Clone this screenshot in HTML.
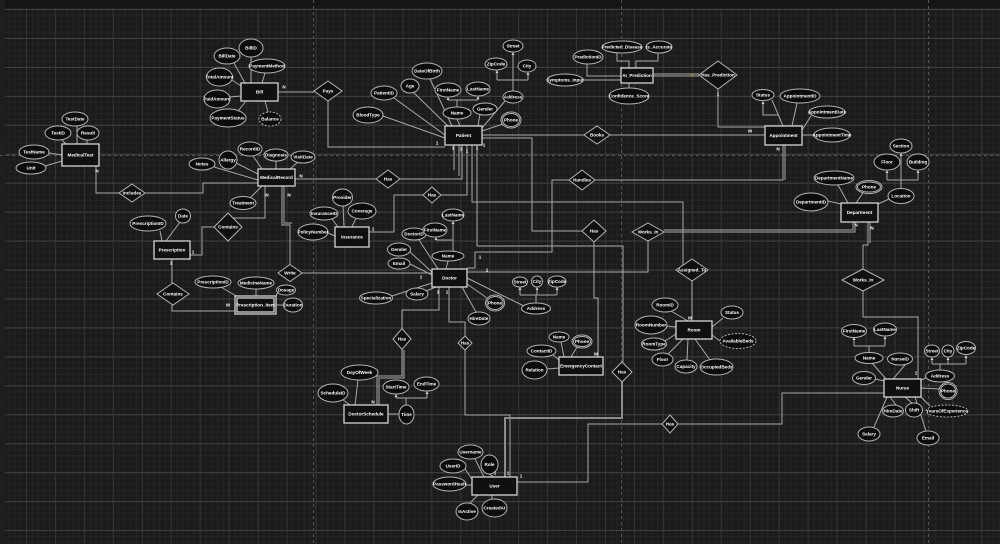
<!DOCTYPE html>
<html><head><meta charset="utf-8">
<style>
html,body{margin:0;padding:0;background:#1b1b1b;}
svg{display:block;}
.e{fill:#0c0c0c;stroke:#b4b4b4;stroke-width:1}
.ed{fill:#0c0c0c;stroke:#b4b4b4;stroke-width:1;stroke-dasharray:2 1.5}
.en{fill:#101010;stroke:#d4d4d4;stroke-width:1.3}
.d{fill:#101010;stroke:#b4b4b4;stroke-width:1}
.l{fill:none;stroke:#a8a8a8;stroke-width:1}
.lt{fill:none;stroke:#8c8c8c;stroke-width:2}
.ar{fill:#d0d0d0}
text{fill:#fff;font-family:"Liberation Sans",sans-serif;font-weight:bold;font-size:4.6px;text-anchor:middle;dominant-baseline:central}
.c{font-size:4.8px}
</style></head>
<body>
<svg width="1000" height="544" viewBox="0 0 1000 544" xmlns="http://www.w3.org/2000/svg">
<defs>
<pattern id="gm" x="26" y="9" width="5.79" height="5.79" patternUnits="userSpaceOnUse"><path d="M0 0.5H5.79M0.5 0V5.79" stroke="#232323" stroke-width="1"/></pattern>
<pattern id="gM" x="26" y="9" width="28.95" height="28.95" patternUnits="userSpaceOnUse"><path d="M0 0.5H28.95" stroke="#424242" stroke-width="1"/><path d="M0.5 0V28.95" stroke="#343434" stroke-width="1"/></pattern>
</defs>
<rect width="1000" height="544" fill="#1b1b1b"/>
<rect width="1000" height="544" fill="url(#gm)"/>
<rect width="1000" height="544" fill="url(#gM)"/>
<rect x="0" y="0" width="1000" height="8" fill="#151515"/>
<rect x="0" y="0" width="5" height="544" fill="#1e1e1e"/>
<!-- page break dashes -->
<g stroke="#555" stroke-width="1" stroke-dasharray="3 3" fill="none">
<path d="M0 155.5H1000"/>
<path d="M313.5 0V544M621.5 0V544M928.5 0V544"/>
</g>

<!-- attribute connectors -->
<path class="l" d="
M251 57V83 M234 63L245 83 M265 73L262 83 M232 80L241 86 M230 97L241 96 M238 111L246 101 M268 112L265 101
M77 126V144 M62 140L66 144 M87 140V144 M49 153L62 155 M45 166L62 161
M383 116L445 138 M394 98L445 135 M413 92L448 126 M430 79L452 126 M457 119L460 126 M480 114L478 126
M457 108V100 M448 100H478 M448 100V99 M478 100V98
M505 101L482 128 M503 124L482 131
M513 91V54 M497 80H528 M497 80V72 M528 80V74
M587 64V76H621 M617 53V61H629V68 M636 68V61H658V53 M583 80H621 M629 88V83
M772 100L783 126 M763 103V115H778 M797 103L792 126 M811 116L802 130 M814 135H802
M901 188V155 M887 180H918 M887 180V172 M918 180V172
M838 185L848 203 M863 193L856 203 M889 199L878 204 M828 201L841 204
M253 156L262 169 M276 161V169 M298 162L290 169 M236 163L258 174 M214 167L258 180 M250 198L262 186
M160 231L162 241 M180 222L166 241
M221 287L238 297 M256 289V297 M278 292L275 298 M284 305H275
M343 206L344 227 M356 218L352 227 M332 219L338 227 M328 233L335 236
M419 240L438 269 M448 261L446 269 M453 251V223 M436 240H453 M436 240V239
M410 252L432 272 M410 264L432 275 M392 296L432 283 M426 291L436 287 M476 312L462 287 M487 298L467 284 M524 306L467 278
M536 303V295 M520 295H557 M520 295V289 M537 295V289 M557 295V289
M671 311L688 321 M667 326L676 327 M665 341L676 334 M668 354L683 339 M687 360L688 339 M710 360L695 339 M723 318L712 327 M720 341L712 335
M561 342L564 357 M577 347L571 357 M553 355L559 360 M547 369L559 368
M872 363L886 379 M905 365L893 379 M875 379L884 381 M926 378L921 380 M939 389L921 388 M930 406L921 397 M896 405L890 397 M912 403L905 397 M926 431L915 397 M874 427L887 397
M869 352V346 M854 346H885 M854 346V339 M885 346V338
M940 370V364 M932 364H966 M932 364V359 M948 364V359 M966 364V357
M358 380L355 405 M343 400L350 405 M399 414H388
M406 405V398 M396 398H427 M396 398V396 M427 398V393
M475 459L484 477 M489 474L494 477 M465 469L472 479 M466 485H472 M470 503L478 495 M492 499V495
"/>

<!-- relationship connectors -->
<path class="l" d="
M278 92H314
M328 101V147H445
M96 166V193H119
M145 193H203V183H258
M295 179H376
M400 179H462V145
M369 232H394V195H423
M441 195H467V145
M265 186V218H233
M214 227H202V255H190
M172 259V283
M172 305V311H236
M282 186V225H290V265
M284 186V223H292
M302 273H432
M472 145V202H683V265
M692 281V321
M477 145V246H623V362
M482 138H532V231H582
M594 242V298H598V357
M482 135H584 M610 135H765
M653 74H699 M653 76H699
M718 89V127H765
M467 268H475V252H552V180H569
M595 180H783V145 M785 180V145
M467 272H648V241
M664 232H855V222 M664 230H853V222
M868 222V245H863V269 M870 222V243
M863 291V317H918V379
M884 393H782V424H678
M662 424H588V482H517
M439 287V310H402V328
M402 350V376H377V405 M404 350V378H379V405
M449 287V322H465V336
M465 350V415H510V477
M454 145V170 M459 145V176
"/>
<path class="lt" d="M622 382V418H505V477"/>

<!-- arrowheads -->
<g class="ar">
<polygon points="448,97 446.5,100 449.5,100"/>
<polygon points="478,96 476.5,99 479.5,99"/>
<polygon points="513,52 511.5,55 514.5,55"/>
<polygon points="497,70 495.5,73 498.5,73"/>
<polygon points="528,72 526.5,75 529.5,75"/>
<polygon points="763,101 761.5,104 764.5,104"/>
<polygon points="901,153 899.5,156 902.5,156"/>
<polygon points="887,170 885.5,173 888.5,173"/>
<polygon points="918,170 916.5,173 919.5,173"/>
<polygon points="453,221 451.5,224 454.5,224"/>
<polygon points="436,237 434.5,240 437.5,240"/>
<polygon points="520,287 518.5,290 521.5,290"/>
<polygon points="537,287 535.5,290 538.5,290"/>
<polygon points="557,287 555.5,290 558.5,290"/>
<polygon points="854,337 852.5,340 855.5,340"/>
<polygon points="885,336 883.5,339 886.5,339"/>
<polygon points="932,357 930.5,360 933.5,360"/>
<polygon points="948,357 946.5,360 949.5,360"/>
<polygon points="966,355 964.5,358 967.5,358"/>
<polygon points="396,394 394.5,397 397.5,397"/>
<polygon points="427,391 425.5,394 428.5,394"/>
</g>

<!-- entities -->
<rect class="en" x="241" y="83" width="37" height="18"/><text x="259.5" y="92">Bill</text>
<rect class="en" x="62" y="144" width="37" height="22"/><text x="80.5" y="155">MedicalTest</text>
<rect class="en" x="445" y="126" width="37" height="19"/><text x="463.5" y="135.5">Patient</text>
<rect class="en" x="621" y="68" width="32" height="15"/><text x="637" y="75.5">AI_Prediction</text>
<rect class="en" x="765" y="126" width="37" height="19"/><text x="783.5" y="135.5">Appointment</text>
<rect class="en" x="258" y="169" width="37" height="17"/><text x="276.5" y="177.5">MedicalRecord</text>
<rect class="en" x="841" y="203" width="37" height="19"/><text x="859.5" y="212.5">Department</text>
<rect class="en" x="154" y="241" width="36" height="18"/><text x="172" y="250">Prescription</text>
<rect class="en" x="335" y="227" width="34" height="20"/><text x="352" y="237">Insurance</text>
<rect class="en" x="432" y="269" width="35" height="18"/><text x="449.5" y="278">Doctor</text>
<rect class="en" x="235" y="296" width="41" height="18"/><rect class="en" x="237" y="298" width="37" height="14"/><text x="255.5" y="305">Prescription_Item</text>
<rect class="en" x="676" y="321" width="36" height="18"/><text x="694" y="330">Room</text>
<rect class="en" x="559" y="357" width="44" height="18"/><text x="581" y="366">EmergencyContact</text>
<rect class="en" x="884" y="379" width="37" height="18"/><text x="902.5" y="388">Nurse</text>
<rect class="en" x="344" y="405" width="44" height="18"/><text x="366" y="414">DoctorSchedule</text>
<rect class="en" x="472" y="477" width="45" height="18"/><text x="494.5" y="486">User</text>

<!-- relationships -->
<polygon class="d" points="328,81 342,91 328,101 314,91"/><text x="328" y="91">Pays</text>
<polygon class="d" points="132,184 145,193 132,202 119,193"/><text x="132" y="193">Includes</text>
<polygon class="d" points="388,170 400,179 388,188 376,179"/><text x="388" y="179">Has</text>
<polygon class="d" points="432,187 441,195 432,203 423,195"/><text x="432" y="195">Has</text>
<polygon class="d" points="228,213 242,227 228,241 214,227"/><text x="228" y="227">Contains</text>
<polygon class="d" points="173,283 189,294 173,305 157,294"/><text x="173" y="294">Contains</text>
<polygon class="d" points="290,264.5 302,273 290,281.5 278,273"/><text x="290" y="273">Write</text>
<polygon class="d" points="718,61 737,75 718,89 699,75"/><text x="718" y="75">Has_Prediction</text>
<polygon class="d" points="597,126 610,135 597,144 584,135"/><text x="597" y="135">Books</text>
<polygon class="d" points="582,170 595,180 582,190 569,180"/><text x="582" y="180">Handles</text>
<polygon class="d" points="594,220 606,231 594,242 582,231"/><text x="594" y="231">Has</text>
<polygon class="d" points="648,223 664,232 648,241 632,232"/><text x="648" y="232">Works_In</text>
<polygon class="d" points="692,259 708,270 692,281 676,270"/><text x="692" y="270">Assigned_To</text>
<polygon class="d" points="863,269 884,280 863,291 842,280"/><text x="863" y="280">Works_in</text>
<polygon class="d" points="402,328.5 411,339 402,349.5 393,339"/><text x="402" y="339">Has</text>
<polygon class="d" points="465,336 472,343 465,350 458,343"/><text x="465" y="343">Has</text>
<polygon class="d" points="622,362 632,372 622,382 612,372"/><text x="622" y="372">Has</text>
<polygon class="d" points="670,415 678,424 670,433 662,424"/><text x="670" y="424">Has</text>

<!-- attributes: Bill -->
<ellipse class="e" cx="251" cy="48" rx="12" ry="9"/><text x="251" y="48">BillID</text>
<ellipse class="e" cx="227" cy="56" rx="13" ry="8"/><text x="227" y="56">BillDate</text>
<ellipse class="e" cx="267" cy="66" rx="18" ry="7"/><text x="267" y="66">PaymentMethod</text>
<ellipse class="e" cx="219.5" cy="77" rx="13" ry="9"/><text x="219.5" y="77">TotalAmount</text>
<ellipse class="e" cx="217" cy="99" rx="13" ry="9"/><text x="217" y="99">PaidAmount</text>
<ellipse class="e" cx="228" cy="118" rx="18" ry="9"/><text x="228" y="118">PaymentStatus</text>
<ellipse class="ed" cx="270" cy="119" rx="11" ry="7"/><text x="270" y="119">Balance</text>
<!-- MedicalTest -->
<ellipse class="e" cx="75" cy="119" rx="13" ry="7"/><text x="75" y="119">TestDate</text>
<ellipse class="e" cx="58" cy="133" rx="13" ry="7"/><text x="58" y="133">TestID</text>
<ellipse class="e" cx="88" cy="133" rx="11" ry="7"/><text x="88" y="133">Result</text>
<ellipse class="e" cx="34" cy="152" rx="15" ry="7"/><text x="34" y="152">TestName</text>
<ellipse class="e" cx="31" cy="168" rx="15" ry="6"/><text x="31" y="168">Unit</text>
<!-- Patient -->
<ellipse class="e" cx="368" cy="115" rx="15" ry="8"/><text x="368" y="115">BloodType</text>
<ellipse class="e" cx="384" cy="93" rx="13" ry="7"/><text x="384" y="93">PatientID</text>
<ellipse class="e" cx="410" cy="86" rx="9" ry="7"/><text x="410" y="86">Age</text>
<ellipse class="e" cx="427" cy="71" rx="15" ry="8"/><text x="427" y="71">DateOfBirth</text>
<ellipse class="e" cx="448" cy="90" rx="13" ry="7"/><text x="448" y="90">FirstName</text>
<ellipse class="e" cx="478" cy="89" rx="12" ry="7"/><text x="478" y="89">LastName</text>
<ellipse class="e" cx="457" cy="113" rx="14" ry="6"/><text x="457" y="113">Name</text>
<ellipse class="e" cx="485" cy="109" rx="12" ry="6"/><text x="485" y="109">Gender</text>
<ellipse class="e" cx="496" cy="64" rx="11" ry="6"/><text x="496" y="64">ZipCode</text>
<ellipse class="e" cx="513" cy="46" rx="10" ry="6"/><text x="513" y="46">Street</text>
<ellipse class="e" cx="527" cy="66" rx="9" ry="6"/><text x="527" y="66">City</text>
<ellipse class="e" cx="513" cy="97" rx="10" ry="6"/><text x="513" y="97">Address</text>
<ellipse class="e" cx="511" cy="120" rx="10" ry="8"/><ellipse class="e" cx="511" cy="120" rx="8.5" ry="6.5"/><text x="511" y="120">Phone</text>
<!-- AI -->
<ellipse class="e" cx="588" cy="57" rx="15" ry="7"/><text x="588" y="57">PredictionID</text>
<ellipse class="e" cx="622" cy="47" rx="20" ry="6"/><text x="622" y="47">Predicted_Disease</text>
<ellipse class="e" cx="659" cy="47" rx="13" ry="6"/><text x="659" y="47">is_Accurate</text>
<ellipse class="e" cx="565" cy="80" rx="18" ry="6"/><text x="565" y="80">Symptoms_Input</text>
<ellipse class="e" cx="629" cy="96" rx="20" ry="8"/><text x="629" y="96">Confidence_Score</text>
<!-- Appointment -->
<ellipse class="e" cx="763" cy="95" rx="11" ry="5.5"/><text x="763" y="95">Status</text>
<ellipse class="e" cx="800" cy="96" rx="20" ry="7"/><text x="800" y="96">AppointmentID</text>
<ellipse class="e" cx="827" cy="112" rx="18" ry="6"/><text x="827" y="112">AppointmentDate</text>
<ellipse class="e" cx="832" cy="135" rx="18" ry="7"/><text x="832" y="135">AppointmentTime</text>
<!-- Department -->
<ellipse class="e" cx="901" cy="146" rx="11" ry="7"/><text x="901" y="146">Section</text>
<ellipse class="e" cx="887" cy="162" rx="13" ry="8"/><text x="887" y="162">Floor</text>
<ellipse class="e" cx="918" cy="162" rx="11" ry="8"/><text x="918" y="162">Building</text>
<ellipse class="e" cx="834" cy="178" rx="20" ry="7"/><text x="834" y="178">DepartmentName</text>
<ellipse class="e" cx="869" cy="187" rx="13" ry="6.5"/><ellipse class="e" cx="869" cy="187" rx="11.5" ry="5"/><text x="869" y="187">Phone</text>
<ellipse class="e" cx="901" cy="196" rx="13" ry="7.5"/><text x="901" y="196">Location</text>
<ellipse class="e" cx="811" cy="202" rx="17" ry="9"/><text x="811" y="202">DepartmentID</text>
<!-- MedicalRecord -->
<ellipse class="e" cx="250" cy="149" rx="12" ry="7"/><text x="250" y="149">RecordID</text>
<ellipse class="e" cx="276" cy="155" rx="12" ry="6"/><text x="276" y="155">Diagnosis</text>
<ellipse class="e" cx="303" cy="157" rx="12" ry="6"/><text x="303" y="157">VisitDate</text>
<ellipse class="e" cx="228" cy="160" rx="9" ry="9"/><text x="228" y="160">Allergy</text>
<ellipse class="e" cx="202" cy="164" rx="13" ry="6"/><text x="202" y="164">Notes</text>
<ellipse class="e" cx="243" cy="203" rx="13" ry="6.5"/><text x="243" y="203">Treatment</text>
<!-- Prescription -->
<ellipse class="e" cx="148" cy="223.5" rx="18" ry="7.5"/><text x="148" y="223.5">PrescriptionID</text>
<ellipse class="e" cx="183" cy="216" rx="7.5" ry="7"/><text x="183" y="216">Date</text>
<ellipse class="e" cx="213" cy="282" rx="18" ry="6"/><text x="213" y="282">PrescriptionID</text>
<ellipse class="e" cx="256" cy="283" rx="18" ry="6"/><text x="256" y="283">MedicineName</text>
<ellipse class="e" cx="286" cy="290" rx="9.5" ry="5"/><text x="286" y="290">Dosage</text>
<ellipse class="e" cx="293" cy="305" rx="9.5" ry="7"/><text x="293" y="305">Duration</text>
<!-- Insurance -->
<ellipse class="e" cx="342.5" cy="197.5" rx="10" ry="8.5"/><text x="342.5" y="197.5">Provider</text>
<ellipse class="e" cx="362" cy="211" rx="14" ry="8"/><text x="362" y="211">Coverage</text>
<ellipse class="e" cx="324" cy="213.5" rx="14" ry="6.5"/><text x="324" y="213.5">InsuranceID</text>
<ellipse class="e" cx="313" cy="232" rx="15" ry="8"/><text x="313" y="232">PolicyNumber</text>
<!-- Doctor -->
<ellipse class="e" cx="414" cy="234" rx="12" ry="6"/><text x="414" y="234">DoctorID</text>
<ellipse class="e" cx="435" cy="230" rx="12" ry="7"/><text x="435" y="230">FirstName</text>
<ellipse class="e" cx="453" cy="215" rx="11" ry="6"/><text x="453" y="215">LastName</text>
<ellipse class="e" cx="448" cy="256" rx="16" ry="5"/><text x="448" y="256">Name</text>
<ellipse class="e" cx="399" cy="249.5" rx="11.5" ry="6.5"/><text x="399" y="249.5">Gender</text>
<ellipse class="e" cx="399" cy="263.5" rx="11" ry="5.5"/><text x="399" y="263.5">Email</text>
<ellipse class="e" cx="376" cy="298" rx="16.5" ry="6"/><text x="376" y="298">Specialization</text>
<ellipse class="e" cx="417" cy="294" rx="11" ry="6"/><text x="417" y="294">Salary</text>
<ellipse class="e" cx="479" cy="318.5" rx="11" ry="6.5"/><text x="479" y="318.5">HireDate</text>
<ellipse class="e" cx="495" cy="303" rx="9.5" ry="8"/><ellipse class="e" cx="495" cy="303" rx="8" ry="6.5"/><text x="495" y="303">Phone</text>
<ellipse class="e" cx="520" cy="282" rx="7.5" ry="5"/><text x="520" y="282">Street</text>
<ellipse class="e" cx="537" cy="281.5" rx="5.5" ry="5.5"/><text x="537" y="281.5">City</text>
<ellipse class="e" cx="557" cy="281.5" rx="9" ry="5.5"/><text x="557" y="281.5">ZipCode</text>
<ellipse class="e" cx="536" cy="308.5" rx="14.5" ry="5.5"/><text x="536" y="308.5">Address</text>
<!-- Room -->
<ellipse class="e" cx="665" cy="305" rx="13" ry="7"/><text x="665" y="305">RoomID</text>
<ellipse class="e" cx="651" cy="325" rx="16" ry="9"/><text x="651" y="325">RoomNumber</text>
<ellipse class="e" cx="654" cy="344" rx="12.5" ry="6"/><text x="654" y="344">RoomType</text>
<ellipse class="e" cx="662.5" cy="359.5" rx="10.5" ry="6.5"/><text x="662.5" y="359.5">Floor</text>
<ellipse class="e" cx="686" cy="366.5" rx="11" ry="6.5"/><text x="686" y="366.5">Capacity</text>
<ellipse class="e" cx="716.5" cy="367" rx="16.5" ry="8"/><text x="716.5" y="367">OccupiedBeds</text>
<ellipse class="e" cx="732" cy="312.5" rx="11" ry="6.5"/><text x="732" y="312.5">Status</text>
<ellipse class="ed" cx="738" cy="341" rx="18" ry="7.5"/><text x="738" y="341">AvailableBeds</text>
<!-- EmergencyContact -->
<ellipse class="e" cx="559" cy="337" rx="10" ry="5"/><text x="559" y="337">Name</text>
<ellipse class="e" cx="582" cy="341.5" rx="10" ry="6.5"/><ellipse class="e" cx="582" cy="341.5" rx="8.5" ry="5"/><text x="582" y="341.5">Phone</text>
<ellipse class="e" cx="541.5" cy="351" rx="14.5" ry="6"/><text x="541.5" y="351">ContactID</text>
<ellipse class="e" cx="534.5" cy="370" rx="12.5" ry="9"/><text x="534.5" y="370">Relation</text>
<!-- Nurse -->
<ellipse class="e" cx="854" cy="331" rx="12.5" ry="6.5"/><text x="854" y="331">FirstName</text>
<ellipse class="e" cx="885" cy="329.5" rx="11.5" ry="6.5"/><text x="885" y="329.5">LastName</text>
<ellipse class="e" cx="869" cy="358" rx="14" ry="5.5"/><text x="869" y="358">Name</text>
<ellipse class="e" cx="900" cy="359" rx="12.5" ry="6"/><text x="900" y="359">NurseID</text>
<ellipse class="e" cx="864" cy="378" rx="11.5" ry="6.5"/><text x="864" y="378">Gender</text>
<ellipse class="e" cx="932" cy="351" rx="7.5" ry="6"/><text x="932" y="351">Street</text>
<ellipse class="e" cx="948" cy="351" rx="6" ry="6"/><text x="948" y="351">City</text>
<ellipse class="e" cx="966" cy="348" rx="9.5" ry="6.5"/><text x="966" y="348">ZipCode</text>
<ellipse class="e" cx="940" cy="376" rx="14.5" ry="6"/><text x="940" y="376">Address</text>
<ellipse class="e" cx="948" cy="391" rx="9" ry="8.5"/><ellipse class="e" cx="948" cy="391" rx="7.5" ry="7"/><text x="948" y="391">Phone</text>
<ellipse class="ed" cx="947" cy="411" rx="21" ry="6"/><text x="947" y="411">YearsOfExperience</text>
<ellipse class="e" cx="893" cy="411" rx="10.5" ry="6"/><text x="893" y="411">HireDate</text>
<ellipse class="e" cx="914" cy="410" rx="8.5" ry="7"/><text x="914" y="410">Shift</text>
<ellipse class="e" cx="869" cy="434" rx="11" ry="7"/><text x="869" y="434">Salary</text>
<ellipse class="e" cx="928" cy="438" rx="11" ry="7"/><text x="928" y="438">Email</text>
<!-- DoctorSchedule -->
<ellipse class="e" cx="359.5" cy="372.5" rx="18.5" ry="7.5"/><text x="359.5" y="372.5">DayOfWeek</text>
<ellipse class="e" cx="333" cy="393" rx="15" ry="9"/><text x="333" y="393">ScheduleID</text>
<ellipse class="e" cx="396" cy="387" rx="13" ry="7"/><text x="396" y="387">StartTime</text>
<ellipse class="e" cx="426.5" cy="384" rx="12.5" ry="7"/><text x="426.5" y="384">EndTime</text>
<ellipse class="e" cx="406.5" cy="414.5" rx="7.5" ry="9.5"/><text x="406.5" y="414.5">Time</text>
<!-- User -->
<ellipse class="e" cx="470.5" cy="452" rx="12.5" ry="7"/><text x="470.5" y="452">Username</text>
<ellipse class="e" cx="489.5" cy="464.5" rx="8.5" ry="9.5"/><text x="489.5" y="464.5">Role</text>
<ellipse class="e" cx="453" cy="466" rx="13" ry="7"/><text x="453" y="466">UserID</text>
<ellipse class="e" cx="449.5" cy="484" rx="16.5" ry="7"/><text x="449.5" y="484">PasswordHash</text>
<ellipse class="e" cx="467" cy="511.5" rx="11" ry="8.5"/><text x="467" y="511.5">IsActive</text>
<ellipse class="e" cx="494.5" cy="508" rx="12.5" ry="9"/><text x="494.5" y="508">CreatedAt</text>

<!-- cardinalities -->
<g class="c">
<text x="284" y="87">N</text>
<text x="437" y="143">1</text>
<text x="97" y="171">N</text>
<text x="301" y="176">N</text>
<text x="453" y="148">1</text>
<text x="461" y="149">1</text>
<text x="467" y="151">1</text>
<text x="477" y="148">1</text>
<text x="484" y="145">1</text>
<text x="373" y="229">1</text>
<text x="193" y="252">1</text>
<text x="171" y="263">1</text>
<text x="228" y="305">M</text>
<text x="267" y="195">N</text>
<text x="289" y="195">N</text>
<text x="421" y="277">1</text>
<text x="690" y="318">M</text>
<text x="508" y="473">1</text>
<text x="495" y="473">1</text>
<text x="596" y="354">M</text>
<text x="692" y="75" style="fill:#f0c040">1</text>
<text x="718" y="94">1</text>
<text x="750" y="131">M</text>
<text x="778" y="149">N</text>
<text x="480" y="257">1</text>
<text x="487" y="270">1</text>
<text x="856" y="225">N</text>
<text x="872" y="228">N</text>
<text x="916" y="373">1</text>
<text x="521" y="476">1</text>
<text x="438" y="292">1</text>
<text x="447" y="292">1</text>
<text x="373" y="402">N</text>
</g>
</svg>
</body></html>
